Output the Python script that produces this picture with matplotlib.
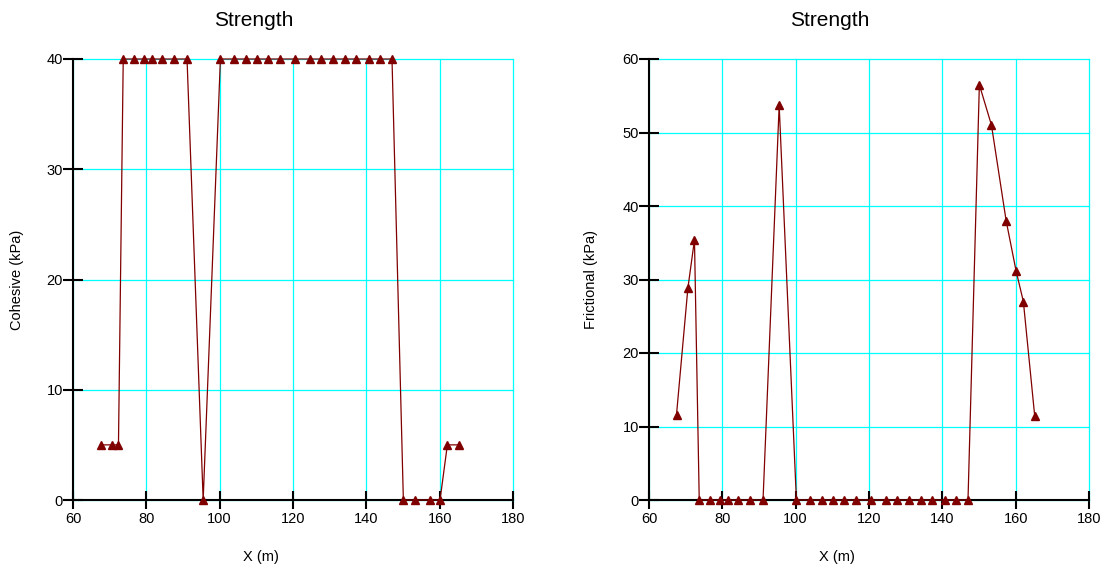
import matplotlib
matplotlib.use("Agg")
import matplotlib.pyplot as plt

plt.rcParams['font.family'] = ['Liberation Sans', 'DejaVu Sans']

x_m = [67.5, 70.6, 72.4, 73.7, 76.5, 79.3, 81.6, 84.3, 87.6, 91.1, 95.5,
       100.2, 104.0, 107.2, 110.3, 113.3, 116.4, 120.5, 124.5, 127.7, 130.9,
       134.2, 137.3, 140.6, 143.7, 147.0, 150.1, 153.4, 157.4, 160.1, 162.1, 165.2]
cohesive = [5, 5, 5, 40, 40, 40, 40, 40, 40, 40, 0,
            40, 40, 40, 40, 40, 40, 40, 40, 40, 40,
            40, 40, 40, 40, 40, 0, 0, 0, 0, 5, 5]
frictional = [11.6, 28.8, 35.4, 0, 0, 0, 0, 0, 0, 0, 53.7,
              0, 0, 0, 0, 0, 0, 0, 0, 0, 0,
              0, 0, 0, 0, 0, 56.5, 51.0, 38.0, 31.2, 27.0, 11.4]

x_ticks = [60, 80, 100, 120, 140, 160, 180]
y_ticks_left = [0, 10, 20, 30, 40]
y_ticks_right = [0, 10, 20, 30, 40, 50, 60]

title = "Strength"
xlabel = "X (m)"
ylabels = ["Cohesive (kPa)", "Frictional (kPa)"]

W, H = 1104, 567
fig = plt.figure(figsize=(W / 100, H / 100), dpi=100)

panels = [
    (73, cohesive, y_ticks_left, ylabels[0], -0.128),
    (649, frictional, y_ticks_right, ylabels[1], -0.132),
]

for left_px, ydata, yt, ylab, ylab_x in panels:
    ax = fig.add_axes([left_px / W, 1 - 500 / H, 440 / W, 441 / H])
    ax.set_xlim(x_ticks[0], x_ticks[-1])
    ax.set_ylim(yt[0], yt[-1])
    ax.set_xticks(x_ticks)
    ax.set_yticks(yt)
    ax.grid(True, color='#00FFFF', linewidth=0.9)
    ax.set_axisbelow(True)
    for gl in ax.get_xgridlines() + ax.get_ygridlines():
        gl.set_clip_on(False)
    ax.spines['top'].set_visible(False)
    ax.spines['right'].set_visible(False)
    ax.spines['left'].set_linewidth(1.5)
    ax.spines['bottom'].set_linewidth(1.5)
    ax.tick_params(axis='x', direction='inout', length=13, width=1.5,
                   pad=2, labelsize=10.5, colors='black')
    ax.tick_params(axis='y', direction='inout', length=14.5, width=1.5,
                   pad=0, labelsize=10.5, colors='black')
    ax.plot(x_m, ydata, color='#800000', linewidth=0.9, marker='^',
            markersize=5.3, markerfacecolor='#800000',
            markeredgecolor='#800000', clip_on=False, zorder=5)
    ax.set_xlabel(xlabel, fontsize=10.5, va='center')
    ax.xaxis.set_label_coords(0.428, -0.129)
    ax.set_ylabel(ylab, fontsize=10.5, va='center')
    ax.yaxis.set_label_coords(ylab_x, 0.5)
    ax.text(0.41, 1.088, title, transform=ax.transAxes, fontsize=15,
            ha='center', va='center')

fig.savefig('out.png', dpi=100)
